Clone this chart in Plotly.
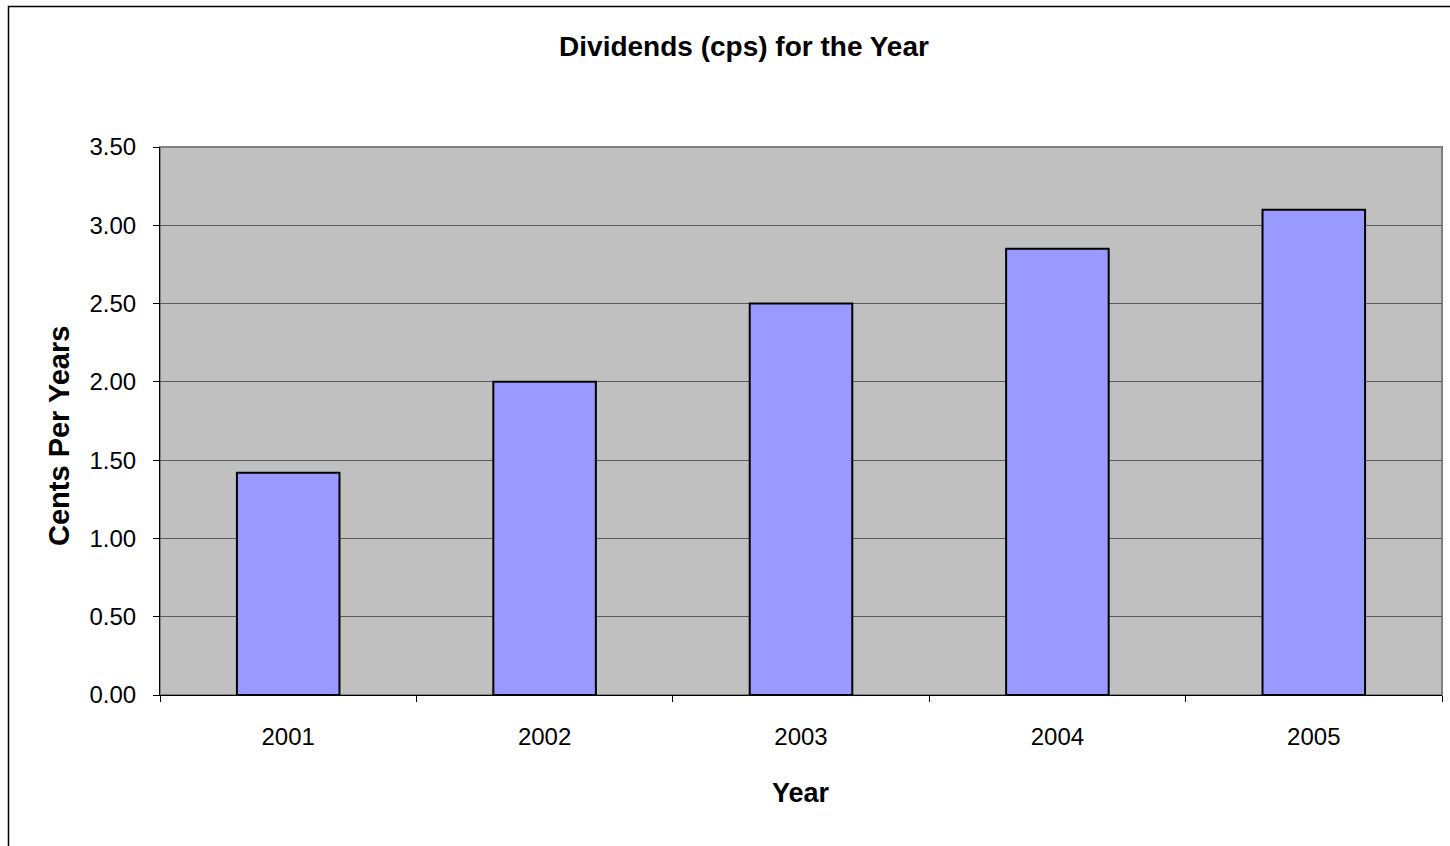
import plotly.graph_objects as go

years = ["2001", "2002", "2003", "2004", "2005"]
dividends = [1.42, 2.00, 2.50, 2.85, 3.10]
y_ticks = [0.0, 0.5, 1.0, 1.5, 2.0, 2.5, 3.0, 3.5]

W, H = 1450, 846
ML, MR, MT, MB = 160, 8, 147, 151
pw, ph = W - ML - MR, H - MT - MB

FONT = "Liberation Sans, Arial, sans-serif"

fig = go.Figure(go.Bar(
    x=years, y=dividends,
    marker=dict(color="#9999FF", line=dict(color="#000000", width=2)),
    width=0.4,
))

def px_x(p):
    return (p - ML) / pw

def px_y(p):
    return (H - MB - p) / ph

fig.update_layout(
    width=W, height=H,
    margin=dict(l=ML, r=MR, t=MT, b=MB, autoexpand=False),
    paper_bgcolor="white",
    plot_bgcolor="#C0C0C0",
    showlegend=False,
    font=dict(family=FONT, color="black"),
    title=dict(text="<b>Dividends (cps) for the Year</b>", x=744 / W, xanchor="center",
               y=1 - 46 / H, yanchor="middle", xref="container", yref="container",
               font=dict(size=28, family=FONT, color="black")),
    xaxis=dict(
        type="category", tickson="boundaries", ticks="outside", ticklen=6,
        tickcolor="#000", showgrid=False, showline=True, linecolor="#000", linewidth=1,
        tickfont=dict(size=24), ticklabelstandoff=20,
        range=[-0.5, 4.5],
    ),
    yaxis=dict(
        range=[0, 3.5], tickvals=y_ticks, tickformat=".2f",
        ticks="outside", ticklen=6, tickcolor="#000",
        showline=True, linecolor="#000", linewidth=1,
        showgrid=True, gridcolor="#5a5a5a", gridwidth=1,
        tickfont=dict(size=24), ticklabelstandoff=12,
        zeroline=False,
    ),
    annotations=[
        dict(text="<b>Year</b>", xref="paper", yref="paper", x=px_x(801), y=px_y(793),
             xanchor="center", yanchor="middle", showarrow=False, font=dict(size=27)),
        dict(text="<b>Cents Per Years</b>", xref="paper", yref="paper", x=px_x(59), y=px_y(436),
             xanchor="center", yanchor="middle", showarrow=False, textangle=-90,
             font=dict(size=29)),
    ],
    shapes=[
        dict(type="rect", xref="paper", yref="paper", x0=0, x1=1, y0=0, y1=1,
             line=dict(color="#808080", width=2), layer="below"),
        dict(type="rect", xref="paper", yref="paper",
             x0=px_x(8.5), x1=px_x(1460), y0=px_y(860), y1=px_y(6.5),
             line=dict(color="#000", width=1.5), layer="above"),
    ],
)

fig.write_html("out.html")
